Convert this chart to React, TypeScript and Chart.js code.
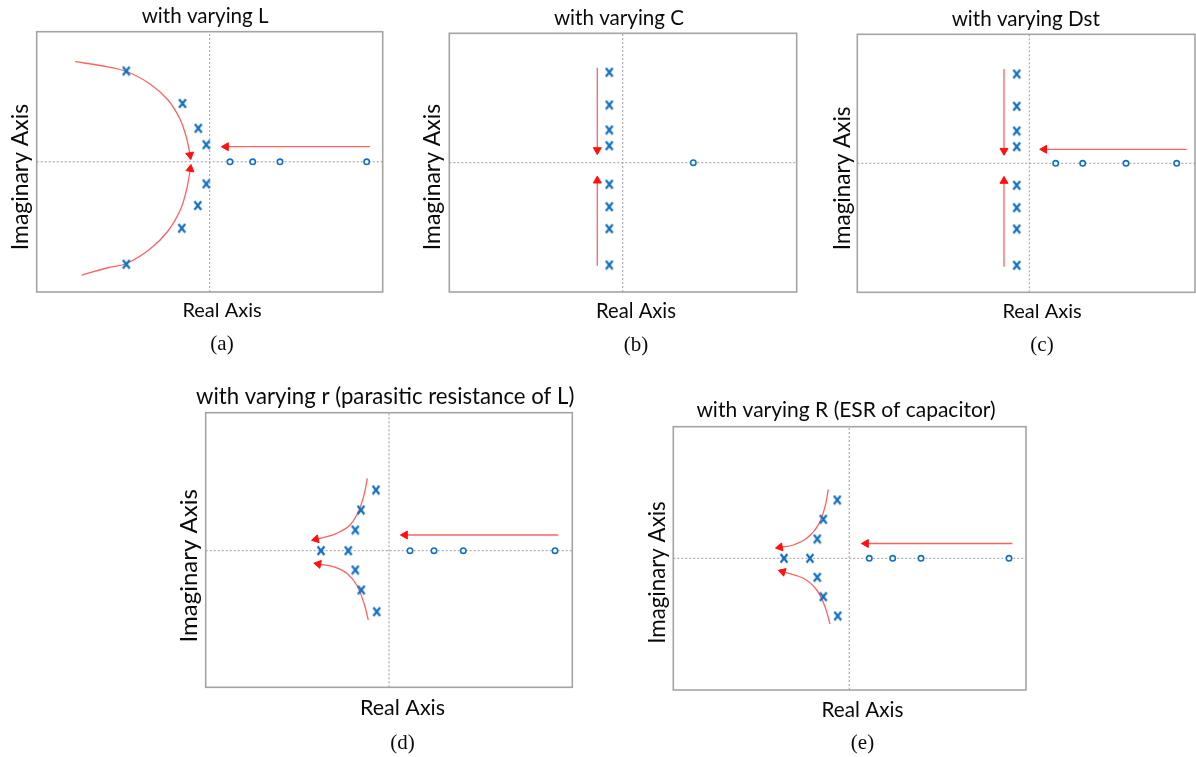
import React, { useEffect, useRef } from 'react';
import { Chart, registerables } from 'chart.js';

Chart.register(...registerables);

type Pt = { x: number; y: number };

// ---------------- texts ----------------
const panelTitles = [
  'with varying L',
  'with varying C',
  'with varying Dst',
  'with varying r (parasitic resistance of L)',
  'with varying R (ESR of capacitor)',
];
const panelCaptions = ['(a)', '(b)', '(c)', '(d)', '(e)'];
const realAxisTitle = 'Real Axis';
const imagAxisTitle = 'Imaginary Axis';

// ---------------- data (figure units, origin at the axes crossing) ----------------
// plot frame extents [min, max] for each panel
const framesX: number[][] = [
  [-17.3, 17.3],
  [-17.34, 17.4],
  [-17.2, 16.57],
  [-18.33, 18.33],
  [-17.59, 17.68],
];
const framesY: number[][] = [
  [-13.02, 13.01],
  [-12.93, 12.94],
  [-12.9, 12.9],
  [-13.66, 13.8],
  [-13.17, 13.16],
];

// (a) with varying L
const polesA: Pt[] = [
  { x: -8.34, y: 9.08 }, { x: -2.72, y: 5.83 }, { x: -1.14, y: 3.35 }, { x: -0.34, y: 1.71 },
  { x: -0.34, y: -2.21 }, { x: -1.19, y: -4.38 }, { x: -2.79, y: -6.64 }, { x: -8.34, y: -10.24 },
];
const zerosA: Pt[] = [{ x: 2.03, y: 0 }, { x: 4.3, y: 0 }, { x: 7.03, y: 0 }, { x: 15.7, y: 0 }];
const arrowsA: Pt[][] = [
  [
    { x: -13.47, y: 10.01 }, { x: -10.97, y: 9.63 }, { x: -8.32, y: 9.03 }, { x: -5.97, y: 7.78 },
    { x: -4.17, y: 6.18 }, { x: -2.97, y: 4.28 }, { x: -2.37, y: 2.58 }, { x: -2.07, y: 1.28 }, { x: -1.97, y: 0.68 },
  ],
  [
    { x: -12.8, y: -11.34 }, { x: -10.3, y: -10.62 }, { x: -8.32, y: -10.17 }, { x: -5.97, y: -8.72 },
    { x: -4.17, y: -6.92 }, { x: -2.92, y: -4.77 }, { x: -2.32, y: -2.82 }, { x: -2.07, y: -1.52 }, { x: -1.94, y: -0.72 },
  ],
  [{ x: 16.03, y: 1.51 }, { x: 1.63, y: 1.51 }],
];

// (b) with varying C
const polesB: Pt[] = [
  { x: -1.34, y: 9.04 }, { x: -1.34, y: 5.77 }, { x: -1.34, y: 3.27 }, { x: -1.34, y: 1.7 },
  { x: -1.34, y: -2.16 }, { x: -1.34, y: -4.4 }, { x: -1.34, y: -6.6 }, { x: -1.34, y: -10.23 },
];
const zerosB: Pt[] = [{ x: 7.06, y: 0 }];
const arrowsB: Pt[][] = [
  [{ x: -2.54, y: 9.5 }, { x: -2.54, y: 1.27 }],
  [{ x: -2.54, y: -10.3 }, { x: -2.54, y: -1.8 }],
];

// (c) with varying Dst
const polesC: Pt[] = [
  { x: -1.26, y: 8.93 }, { x: -1.26, y: 5.7 }, { x: -1.26, y: 3.23 }, { x: -1.26, y: 1.66 },
  { x: -1.26, y: -2.2 }, { x: -1.26, y: -4.44 }, { x: -1.26, y: -6.57 }, { x: -1.26, y: -10.2 },
];
const zerosC: Pt[] = [{ x: 2.64, y: 0 }, { x: 5.34, y: 0 }, { x: 9.67, y: 0 }, { x: 14.74, y: 0 }];
const arrowsC: Pt[][] = [
  [{ x: -2.53, y: 9.43 }, { x: -2.53, y: 1.26 }],
  [{ x: -2.53, y: -10.34 }, { x: -2.53, y: -1.77 }],
  [{ x: 15.74, y: 1.4 }, { x: 1.5, y: 1.4 }],
];

// (d) with varying r
const polesD: Pt[] = [
  { x: -1.3, y: 6.07 }, { x: -2.8, y: 4.07 }, { x: -3.37, y: 2.07 }, { x: -6.8, y: 0 },
  { x: -4.07, y: 0 }, { x: -3.37, y: -1.93 }, { x: -2.77, y: -3.93 }, { x: -1.23, y: -6.1 },
];
const zerosD: Pt[] = [{ x: 2.1, y: 0 }, { x: 4.5, y: 0 }, { x: 7.43, y: 0 }, { x: 16.6, y: 0 }];
const arrowsD: Pt[][] = [
  [
    { x: -2.17, y: 7.24 }, { x: -2.5, y: 5.57 }, { x: -3.07, y: 3.9 }, { x: -3.9, y: 2.57 },
    { x: -5.23, y: 1.74 }, { x: -6.57, y: 1.3 }, { x: -7.3, y: 1.14 },
  ],
  [
    { x: -2.07, y: -6.93 }, { x: -2.5, y: -5.26 }, { x: -3.23, y: -3.43 }, { x: -4.23, y: -2.26 },
    { x: -5.57, y: -1.6 }, { x: -7.07, y: -1.33 },
  ],
  [{ x: 16.93, y: 1.57 }, { x: 1.6, y: 1.57 }],
];

// (e) with varying R
const polesE: Pt[] = [
  { x: -1.19, y: 5.83 }, { x: -2.59, y: 3.9 }, { x: -3.19, y: 1.93 }, { x: -6.52, y: 0 },
  { x: -3.92, y: 0 }, { x: -3.19, y: -1.9 }, { x: -2.59, y: -3.84 }, { x: -1.15, y: -5.77 },
];
const zerosE: Pt[] = [{ x: 2.01, y: 0 }, { x: 4.35, y: 0 }, { x: 7.18, y: 0 }, { x: 15.98, y: 0 }];
const arrowsE: Pt[][] = [
  [
    { x: -2.09, y: 6.9 }, { x: -2.42, y: 5.16 }, { x: -3.09, y: 3.33 }, { x: -4.25, y: 2.0 },
    { x: -5.59, y: 1.33 }, { x: -6.92, y: 1.1 },
  ],
  [
    { x: -1.92, y: -6.57 }, { x: -2.42, y: -4.84 }, { x: -3.25, y: -3.17 }, { x: -4.59, y: -2.0 },
    { x: -6.65, y: -1.34 },
  ],
  [{ x: 16.31, y: 1.48 }, { x: 1.68, y: 1.48 }],
];

const panelPoles = [polesA, polesB, polesC, polesD, polesE];
const panelZeros = [zerosA, zerosB, zerosC, zerosD, zerosE];
const panelArrows = [arrowsA, arrowsB, arrowsC, arrowsD, arrowsE];

// ---------------- layout & style (kept apart from the data) ----------------
const PX_PER_UNIT = 10;
const SANS = 'Lato, "Open Sans", sans-serif';
const SERIF = '"Liberation Serif", "Times New Roman", serif';
const CAPTION_SIZE = 21;

const panelLayouts = [
  { left: 36.7, top: 31.7, extRight: 24.6, extBottom: 30.3, titleGap: 15.2, xTitleGap: 19, captionGap: 52, titleSize: 20.6, xSize: 20, ySize: 22.9, yGap: 16 },
  { left: 449.3, top: 33.3, extRight: 26, extBottom: 28.7, titleGap: 14.6, xTitleGap: 19.5, captionGap: 53, titleSize: 20.6, xSize: 20.2, ySize: 22.9, yGap: 16.3 },
  { left: 857.3, top: 34.3, extRight: 31.7, extBottom: 30, titleGap: 14.6, xTitleGap: 19.2, captionGap: 53.5, titleSize: 20.6, xSize: 20, ySize: 22.5, yGap: 15 },
  { left: 205.7, top: 412.7, extRight: 27, extBottom: 31.6, titleGap: 15.7, xTitleGap: 21, captionGap: 56, titleSize: 22.2, xSize: 21.5, ySize: 24, yGap: 16.3 },
  { left: 673.3, top: 426.7, extRight: 25.7, extBottom: 28.3, titleGap: 16.3, xTitleGap: 20, captionGap: 53.5, titleSize: 21, xSize: 20.7, ySize: 22.3, yGap: 15.6 },
];

const BLUE = '#1170c4';
const RED_LINE = 'rgba(255,80,80,0.9)';
const RED_HEAD = '#ff1010';
const AXIS_LINE = '#9c9c9c';
const FRAME = '#a4a4a4';
const TEXT = '#0a0a0a';

// "x"-shaped pole glyph (taller than wide, like the letter x)
function makePoleGlyph(): HTMLCanvasElement {
  const c = document.createElement('canvas');
  c.width = 10;
  c.height = 11;
  const g = c.getContext('2d')!;
  g.strokeStyle = BLUE;
  g.lineWidth = 2.2;
  g.lineCap = 'butt';
  g.beginPath();
  g.moveTo(1.6, 1.2);
  g.lineTo(8.4, 9.8);
  g.moveTo(8.4, 1.2);
  g.lineTo(1.6, 9.8);
  g.stroke();
  return c;
}

function Panel({ idx }: { idx: number }) {
  const ref = useRef<HTMLCanvasElement | null>(null);
  const lay = panelLayouts[idx];
  const fx = framesX[idx];
  const fy = framesY[idx];

  const yLine = 1.2 * lay.ySize;
  const yPadBottom = lay.yGap - yLine / 2;
  const yPadTop = 4;
  const yBlock = yPadTop + yLine + yPadBottom;

  const cw = (fx[1] - fx[0]) * PX_PER_UNIT + lay.extRight;
  const ch = (fy[1] - fy[0]) * PX_PER_UNIT + lay.extBottom;
  const tPadTop = 4;
  const tPadBottom = lay.titleGap - 0.6 * lay.titleSize;
  const titleBlock = tPadTop + 1.2 * lay.titleSize + tPadBottom;
  const xPadTop = lay.xTitleGap - lay.extBottom - 0.6 * lay.xSize;
  const xPadBottom = 2;
  const xBlock = 1.2 * lay.xSize + xPadTop + xPadBottom;
  const cPadTop = lay.captionGap - lay.extBottom - xBlock - 0.6 * CAPTION_SIZE;
  const cPadBottom = 2;
  const capBlock = cPadTop + 1.2 * CAPTION_SIZE + cPadBottom;
  const left = lay.left - yBlock;
  const top = lay.top - titleBlock;
  const cl = Math.floor(left);
  const ct = Math.floor(top);
  const padL = left - cl;
  const padT = top - ct;
  const innerW = yBlock + cw;
  const innerH = titleBlock + ch + xBlock + capBlock;
  const W = Math.ceil(padL + innerW);
  const H = Math.ceil(padT + innerH);
  const padR = W - padL - innerW;
  const padB = H - padT - innerH;

  useEffect(() => {
    const canvas = ref.current;
    if (!canvas) return;
    const poleGlyph = makePoleGlyph();

    const datasets: any[] = [];
    datasets.push({
      data: panelPoles[idx],
      showLine: false,
      pointStyle: poleGlyph,
      pointRadius: 4,
      pointBorderColor: BLUE,
      pointBackgroundColor: BLUE,
      order: 0,
    });
    datasets.push({
      data: panelZeros[idx],
      showLine: false,
      pointStyle: 'circle',
      pointRadius: 2.7,
      pointBorderWidth: 1.6,
      pointBorderColor: BLUE,
      pointBackgroundColor: '#ffffff',
      order: 1,
    });
    panelArrows[idx].forEach((arrow) => {
      const n = arrow.length;
      datasets.push({
        data: arrow,
        showLine: true,
        tension: 0.4,
        borderColor: RED_LINE,
        borderWidth: 1.3,
        pointStyle: 'triangle',
        pointRadius: (c: any) => (c.dataIndex === n - 1 ? 4.6 : 0),
        pointBorderWidth: 1,
        pointBorderColor: RED_HEAD,
        pointBackgroundColor: RED_HEAD,
        pointRotation: () => {
          const a = arrow[n - 2];
          const b = arrow[n - 1];
          return (Math.atan2(b.x - a.x, b.y - a.y) * 180) / Math.PI;
        },
        order: 2,
      });
    });
    datasets.push({
      data: [{ x: fx[0], y: 0 }, { x: fx[1], y: 0 }],
      showLine: true,
      borderColor: AXIS_LINE,
      borderWidth: 1,
      borderDash: [2, 2],
      pointRadius: 0,
      order: 3,
    });
    datasets.push({
      data: [{ x: 0, y: fy[0] }, { x: 0, y: fy[1] }],
      showLine: true,
      borderColor: AXIS_LINE,
      borderWidth: 1,
      borderDash: [2, 2],
      pointRadius: 0,
      order: 3,
    });

    const framePlugin = {
      id: 'frameBox',
      beforeDatasetsDraw(chart: any) {
        const { ctx, scales } = chart;
        const x0 = scales.x.getPixelForValue(fx[0]);
        const x1 = scales.x.getPixelForValue(fx[1]);
        const y0 = scales.y.getPixelForValue(fy[1]);
        const y1 = scales.y.getPixelForValue(fy[0]);
        ctx.save();
        ctx.strokeStyle = FRAME;
        ctx.lineWidth = 1.6;
        ctx.strokeRect(x0, y0, x1 - x0, y1 - y0);
        ctx.restore();
      },
    };

    const chart = new Chart(canvas, {
      type: 'scatter',
      data: { datasets },
      options: {
        responsive: false,
        animation: false,
        events: [],
        layout: {
          autoPadding: false,
          padding: { left: padL, top: padT, right: padR, bottom: padB },
        },
        plugins: {
          legend: { display: false },
          tooltip: { enabled: false },
          title: {
            display: true,
            text: panelTitles[idx],
            fullSize: true,
            color: TEXT,
            font: { family: SANS, size: lay.titleSize, weight: 'normal' },
            padding: { top: tPadTop, bottom: tPadBottom },
          },
          subtitle: {
            display: true,
            text: panelCaptions[idx],
            position: 'bottom',
            fullSize: false,
            color: TEXT,
            font: { family: SERIF, size: CAPTION_SIZE, weight: 'normal' },
            padding: { top: cPadTop, bottom: cPadBottom },
          },
        },
        scales: {
          x: {
            type: 'linear',
            min: fx[0],
            max: fx[1] + lay.extRight / PX_PER_UNIT,
            grid: { display: false, drawTicks: false },
            border: { display: false },
            ticks: { display: false },
            title: {
              display: true,
              text: realAxisTitle,
              color: TEXT,
              font: { family: SANS, size: lay.xSize },
              padding: { top: xPadTop, bottom: xPadBottom },
            },
          },
          y: {
            type: 'linear',
            min: fy[0] - lay.extBottom / PX_PER_UNIT,
            max: fy[1],
            grid: { display: false, drawTicks: false },
            border: { display: false },
            ticks: { display: false },
            title: {
              display: true,
              text: imagAxisTitle,
              color: TEXT,
              font: { family: SANS, size: lay.ySize },
              padding: { top: yPadTop, bottom: yPadBottom },
            },
          },
        },
      } as any,
      plugins: [framePlugin],
    });
    return () => chart.destroy();
  }, [idx]);

  return (
    <canvas
      ref={ref}
      width={W}
      height={H}
      style={{ position: 'absolute', left: cl, top: ct, width: W, height: H }}
    />
  );
}

export default function App() {
  return (
    <div
      style={{
        position: 'absolute',
        left: 0,
        top: 0,
        width: 1196,
        height: 757,
        overflow: 'hidden',
        background: '#ffffff',
      }}
    >
      {[0, 1, 2, 3, 4].map((i) => (
        <Panel key={i} idx={i} />
      ))}
    </div>
  );
}
